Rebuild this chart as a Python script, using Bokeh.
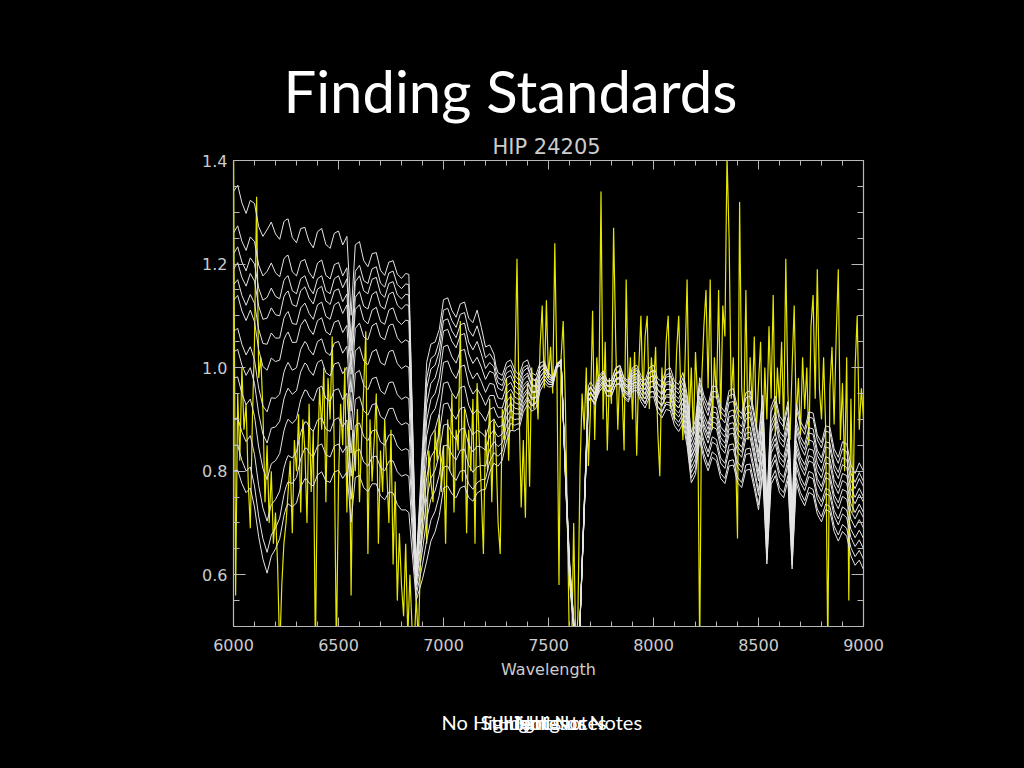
import numpy as np
from bokeh.plotting import figure
from bokeh.layouts import column
from bokeh.models import Range1d, LinearAxis, FixedTicker, PrintfTickFormatter, Title, Label
from bokeh.embed import file_html
from bokeh.resources import INLINE

# ---------------- texts ----------------
slide_title = "Finding Standards"
plot_title = "HIP 24205"
x_label = "Wavelength"
note_texts = ["No Highlights or Notes", "Student Notes", "Highlights", "Notes"]

# ---------------- axes ----------------
x_start, x_end = 6000, 9000
y_start, y_end = 0.5, 1.4
x_ticks = [6000, 6500, 7000, 7500, 8000, 8500, 9000]
y_ticks = [0.6, 0.8, 1.0, 1.2, 1.4]

# ---------------- yellow (target) spectrum, 10 A sampling ----------------
yellow_wl = np.arange(6000, 9001, 10)
yellow_flux = [
    1.45, 0.56, 0.95, 0.82, 1.00, 0.88, 0.93, 0.78, 0.69, 0.90,
    1.05, 1.33, 0.98, 1.02, 0.92, 0.74, 0.85, 0.70, 0.80, 0.66,
    0.72, 0.62, 0.45, 0.58, 0.66, 0.70, 0.76, 0.82, 0.68, 0.86,
    0.80, 0.91, 0.72, 0.90, 0.84, 0.70, 0.93, 0.76, 0.88, 0.45,
    0.82, 0.96, 0.88, 1.00, 0.74, 0.98, 0.90, 1.06, 0.84, 0.45,
    0.78, 0.93, 0.85, 1.00, 0.72, 0.95, 0.56, 0.88, 0.80, 0.92,
    0.74, 0.86, 0.96, 1.07, 0.64, 0.90, 0.78, 0.86, 0.95, 0.66,
    0.84, 0.76, 0.90, 0.80, 0.70, 0.88, 0.62, 0.78, 0.55, 0.68,
    0.58, 0.52, 0.66, 0.48, 0.60, 0.50, 0.45, 0.56, 0.47, 0.62,
    0.70, 0.80, 0.66, 0.84, 0.78, 0.74, 0.88, 0.82, 0.91, 0.76,
    0.85, 0.66, 0.90, 0.80, 0.95, 0.72, 0.88, 0.84, 1.09, 0.78,
    0.92, 0.68, 0.88, 0.80, 0.94, 0.66, 0.97, 0.86, 0.76, 0.64,
    0.88, 0.80, 0.94, 0.74, 0.90, 0.84, 0.70, 0.64, 0.92, 0.86,
    0.98, 0.82, 0.95, 0.88, 0.99, 1.21, 0.92, 0.73, 0.86, 0.71,
    0.97, 0.77, 1.00, 0.92, 0.98, 0.90, 1.04, 1.12, 0.96, 1.13,
    0.98, 1.04, 0.95, 1.24, 0.99, 0.58, 1.02, 1.09, 0.94, 0.70,
    0.45, 0.45, 0.70, 0.45, 0.52, 0.80, 0.95, 0.88, 1.00, 0.81,
    0.92, 1.11, 0.86, 1.02, 0.95, 1.34, 0.90, 1.05, 0.84, 0.98,
    0.93, 1.27, 1.05, 0.88, 1.00, 0.96, 0.84, 1.17, 0.95, 1.02,
    0.90, 1.03, 0.83, 1.00, 1.10, 0.94, 1.06, 1.10, 0.92, 1.02,
    0.96, 1.04, 0.88, 0.79, 1.00, 0.93, 1.05, 1.10, 0.92, 0.98,
    0.90, 1.03, 1.10, 0.95, 0.86, 1.01, 1.17, 0.90, 1.00, 0.87,
    1.03, 0.94, 0.45, 0.98, 1.08, 1.15, 0.96, 1.17, 0.88, 1.02,
    0.94, 1.15, 0.90, 1.12, 1.06, 1.41, 1.25, 0.94, 1.02, 0.85,
    0.67, 1.32, 0.96, 0.90, 1.15, 0.86, 1.02, 0.92, 1.06, 0.88,
    0.97, 1.05, 0.84, 1.00, 0.90, 1.08, 0.94, 1.14, 0.87, 1.00,
    0.93, 1.05, 0.88, 1.21, 0.95, 0.86, 1.00, 1.12, 0.90, 0.98,
    0.87, 1.02, 0.92, 1.00, 0.85, 1.08, 1.14, 0.94, 1.19, 0.96,
    0.90, 1.02, 0.88, 0.45, 0.96, 1.04, 0.89, 1.06, 1.19, 0.86,
    0.97, 0.80, 1.02, 0.55, 0.94, 0.72, 1.00, 1.10, 0.88, 0.96,
    0.90,
]

# ---------------- white (standard star) spectra ----------------
# pseudo-continuum level of each of the 12 standards at these wavelengths
white_knot_wl = [6000, 6080, 6160, 6250, 6350, 6450, 6550, 6650, 6750, 6835,
                 6870, 6920, 7000, 7100, 7160, 7250, 7350, 7450, 7560, 7600,
                 7640, 7690, 7800, 8000, 8150, 8300, 8500, 8700, 8850, 9000]
white_levels_by_knot = [
    [1.34, 1.26, 1.22, 1.19, 1.16, 1.13, 1.07, 1.03, 0.98, 0.90, 0.85, 0.80],
    [1.31, 1.24, 1.20, 1.17, 1.13, 1.10, 1.03, 0.99, 0.93, 0.86, 0.80, 0.76],
    [1.26, 1.18, 1.13, 1.09, 1.04, 0.99, 0.91, 0.85, 0.78, 0.70, 0.64, 0.60],
    [1.27, 1.20, 1.16, 1.13, 1.09, 1.05, 0.99, 0.94, 0.88, 0.81, 0.76, 0.72],
    [1.25, 1.19, 1.16, 1.14, 1.11, 1.08, 1.04, 1.00, 0.95, 0.89, 0.84, 0.78],
    [1.25, 1.19, 1.16, 1.14, 1.11, 1.08, 1.04, 1.00, 0.95, 0.89, 0.84, 0.79],
    [1.24, 1.18, 1.16, 1.13, 1.11, 1.07, 1.03, 0.99, 0.94, 0.89, 0.84, 0.79],
    [1.21, 1.18, 1.16, 1.13, 1.10, 1.07, 1.02, 0.97, 0.92, 0.87, 0.82, 0.77],
    [1.19, 1.17, 1.15, 1.13, 1.10, 1.07, 1.02, 0.96, 0.91, 0.86, 0.81, 0.75],
    [1.18, 1.16, 1.14, 1.12, 1.09, 1.05, 1.00, 0.94, 0.89, 0.84, 0.79, 0.72],
    [0.62, 0.61, 0.61, 0.60, 0.60, 0.59, 0.59, 0.58, 0.58, 0.57, 0.56, 0.55],
    [1.00, 0.97, 0.95, 0.92, 0.89, 0.86, 0.82, 0.78, 0.74, 0.70, 0.66, 0.62],
    [1.12, 1.10, 1.08, 1.06, 1.03, 1.00, 0.96, 0.92, 0.88, 0.84, 0.80, 0.76],
    [1.11, 1.09, 1.07, 1.05, 1.02, 0.99, 0.95, 0.91, 0.87, 0.83, 0.79, 0.76],
    [1.10, 1.07, 1.04, 1.01, 0.98, 0.95, 0.91, 0.87, 0.84, 0.80, 0.77, 0.75],
    [1.00, 0.99, 0.98, 0.97, 0.95, 0.93, 0.91, 0.89, 0.87, 0.85, 0.83, 0.81],
    [1.00, 0.99, 0.98, 0.97, 0.96, 0.95, 0.94, 0.93, 0.92, 0.91, 0.90, 0.89],
    [1.00, 0.99, 0.99, 0.98, 0.98, 0.97, 0.97, 0.96, 0.96, 0.95, 0.95, 0.94],
    [0.99, 0.99, 1.00, 1.00, 1.00, 1.00, 1.00, 1.00, 1.00, 1.00, 1.00, 1.00],
    [0.63, 0.62, 0.62, 0.62, 0.61, 0.61, 0.61, 0.60, 0.60, 0.60, 0.59, 0.59],
    [0.40, 0.40, 0.40, 0.40, 0.40, 0.40, 0.40, 0.40, 0.40, 0.40, 0.40, 0.40],
    [0.93, 0.93, 0.93, 0.94, 0.94, 0.94, 0.94, 0.95, 0.95, 0.95, 0.95, 0.96],
    [0.96, 0.96, 0.97, 0.97, 0.97, 0.97, 0.98, 0.98, 0.98, 0.98, 0.99, 0.99],
    [0.93, 0.94, 0.94, 0.95, 0.95, 0.96, 0.96, 0.97, 0.97, 0.98, 0.98, 0.99],
    [0.88, 0.89, 0.90, 0.91, 0.92, 0.93, 0.93, 0.94, 0.95, 0.96, 0.97, 0.98],
    [0.80, 0.81, 0.83, 0.84, 0.86, 0.87, 0.88, 0.89, 0.90, 0.92, 0.93, 0.94],
    [0.78, 0.79, 0.81, 0.82, 0.84, 0.85, 0.86, 0.88, 0.89, 0.90, 0.92, 0.93],
    [0.76, 0.77, 0.79, 0.80, 0.82, 0.83, 0.84, 0.86, 0.87, 0.88, 0.90, 0.91],
    [0.70, 0.71, 0.73, 0.74, 0.76, 0.77, 0.79, 0.80, 0.82, 0.83, 0.85, 0.86],
    [0.61, 0.63, 0.65, 0.67, 0.69, 0.71, 0.72, 0.74, 0.75, 0.77, 0.78, 0.80],
]
# shared fine line structure of the standards (ratio to pseudo-continuum), 20 A sampling
white_fine_wl = np.arange(6000, 9001, 20)
white_fine = [
    1.00, 1.015, 0.995, 0.985, 1.01, 1.015, 0.99, 0.985, 1.005, 1.015,
    0.995, 0.985, 1.01, 1.015, 0.99, 0.985, 1.01, 1.015, 0.995, 0.985,
    1.01, 1.015, 0.99, 0.985, 1.01, 1.015, 0.995, 1.01, 0.89, 1.005,
    1.015, 0.99, 0.985, 1.01, 1.015, 0.99, 0.985, 1.01, 1.015, 0.995,
    0.99, 1.00, 1.00, 1.00, 1.00, 1.00, 1.01, 1.015, 0.99, 0.985,
    1.01, 1.015, 0.995, 0.985, 1.01, 1.015, 0.99, 0.985, 1.01, 1.00,
    0.985, 1.01, 1.015, 0.99, 0.985, 1.01, 1.015, 0.995, 0.985, 1.01,
    1.015, 0.99, 0.985, 1.01, 1.015, 0.995, 0.985, 1.01, 1.015, 1.00,
    1.00, 1.00, 1.00, 1.00, 1.00, 1.01, 0.99, 1.01, 1.015, 0.99,
    0.985, 1.01, 1.015, 0.99, 0.985, 1.01, 1.015, 0.995, 0.985, 1.01,
    1.015, 0.99, 0.985, 1.01, 1.015, 0.99, 0.985, 1.01, 0.97, 0.90,
    0.93, 1.02, 0.99, 0.975, 1.02, 1.025, 0.985, 0.975, 1.02, 1.025,
    0.985, 0.975, 1.02, 1.025, 0.98, 0.93, 1.02, 0.80, 1.00, 1.025,
    0.985, 0.975, 1.02, 0.80, 1.02, 0.985, 0.975, 1.02, 1.025, 0.985,
    0.975, 1.02, 1.025, 0.985, 0.975, 1.02, 1.025, 0.985, 0.975, 1.01,
    1.00,
]

# ---------------- build series ----------------
white_wl = np.union1d(white_fine_wl, white_knot_wl)
levels = np.array(white_levels_by_knot).T
fine_on_grid = np.interp(white_wl, white_fine_wl, white_fine)
white_xs, white_ys = [], []
for lv in levels:
    white_xs.append(list(white_wl))
    white_ys.append(list(np.interp(white_wl, white_knot_wl, lv) * fine_on_grid))

W = 1024
BG = "black"
axis_col = "#b8b8b8"
lab_col = "#cccccc"
axis_font = "DejaVu Sans"

# ---------------- main plot (with slide title and plot title above) ----------------
H_MAIN = 700
p = figure(width=W, height=H_MAIN, output_backend="svg", toolbar_location=None,
           x_range=Range1d(x_start, x_end), y_range=Range1d(y_start, y_end),
           x_axis_type=None, y_axis_type=None, title=None,
           min_border_left=233, min_border_right=161,
           min_border_top=160, min_border_bottom=74)
p.background_fill_color = BG
p.border_fill_color = BG
p.outline_line_color = None
p.grid.visible = False

def style(ax, show_labels, major_in, minor_in):
    ax.axis_line_color = axis_col
    ax.axis_line_width = 1.2
    ax.major_tick_line_color = axis_col
    ax.minor_tick_line_color = axis_col
    ax.major_tick_in = major_in
    ax.major_tick_out = 0
    ax.minor_tick_in = minor_in
    ax.minor_tick_out = 0
    ax.major_label_text_color = lab_col
    ax.major_label_text_font = axis_font
    ax.major_label_text_font_size = "16px"
    if not show_labels:
        ax.major_label_text_alpha = 0
        ax.major_label_text_font_size = "1px"
        ax.major_label_standoff = 0

x_minor = list(np.arange(x_start, x_end + 1, 100))
y_minor = [round(v, 2) for v in np.arange(0.5, 1.4001, 0.05)]

def xt():
    return FixedTicker(ticks=x_ticks, minor_ticks=x_minor)

def yt():
    return FixedTicker(ticks=y_ticks, minor_ticks=y_minor)

bottom = LinearAxis(ticker=xt(), axis_label=x_label)
style(bottom, True, 9, 5)
bottom.major_label_standoff = 12
bottom.axis_label_text_font = axis_font
bottom.axis_label_text_font_size = "16px"
bottom.axis_label_text_font_style = "normal"
bottom.axis_label_text_color = lab_col
bottom.axis_label_standoff = 6
top = LinearAxis(ticker=xt())
style(top, False, 9, 5)
left = LinearAxis(ticker=yt(), formatter=PrintfTickFormatter(format="%.1f"))
style(left, True, 12, 6)
left.major_label_standoff = 6
right = LinearAxis(ticker=yt())
style(right, False, 12, 6)
p.add_layout(bottom, "below")
p.add_layout(top, "above")
p.add_layout(left, "left")
p.add_layout(right, "right")

p.add_layout(Title(text=plot_title, align="left", offset=259, standoff=3,
                   text_font=axis_font, text_font_size="21px",
                   text_font_style="normal", text_color=lab_col), "above")
p.add_layout(Title(text=slide_title, align="left", offset=50, standoff=14,
                   text_font="Lato", text_font_size="58px",
                   text_font_style="normal", text_color="white"), "above")

p.line(yellow_wl, yellow_flux, line_color="#e6e600", line_width=1.2)
p.multi_line(white_xs, white_ys, line_color="#e4e4e4", line_width=1)

# ---------------- footer strip (overlapping notes text) ----------------
# its frame is aligned with the plot frame above (starts 233 px from the page edge)
H_BOT = 768 - H_MAIN
bot_fig = figure(width=W, height=H_BOT, output_backend="svg", toolbar_location=None,
                 x_range=Range1d(0, W), y_range=Range1d(0, H_BOT),
                 x_axis_type=None, y_axis_type=None, min_border=0, title=None)
bot_fig.background_fill_color = BG
bot_fig.border_fill_color = BG
bot_fig.outline_line_color = None
bot_fig.grid.visible = False
note_left = [208, 247, 265, 282]
for t, lx in zip(note_texts, note_left):
    bot_fig.add_layout(Label(x=lx, y=47, x_units="screen", y_units="screen",
                             text=t, text_align="left", text_baseline="alphabetic",
                             text_color="white", text_font="Lato",
                             text_font_size="20px"))

layout = column(p, bot_fig, spacing=0)
html = file_html(layout, INLINE, title=slide_title)
html = html.replace("</head>", "<style>html,body{background:#000000;}</style></head>")
open("out.html", "w").write(html)
